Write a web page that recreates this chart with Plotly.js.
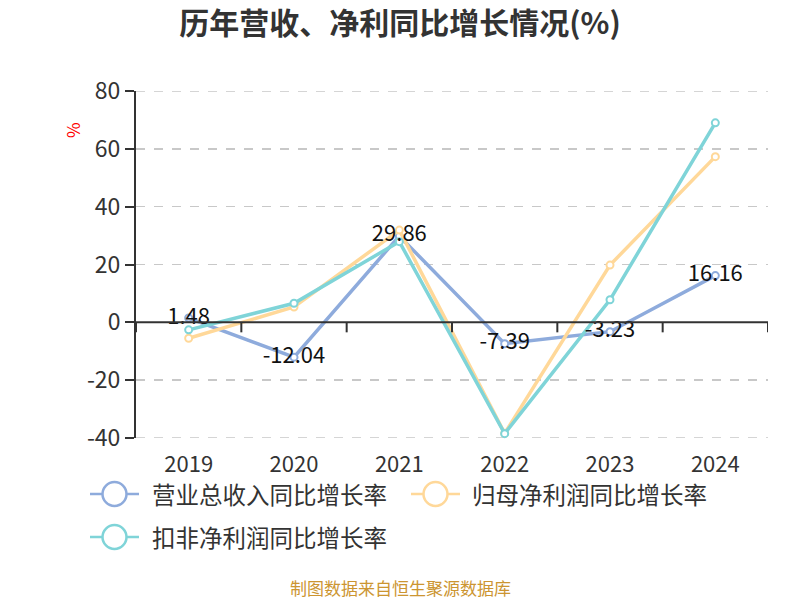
<!DOCTYPE html>
<html>
<head>
<meta charset="utf-8">
<script src="https://cdn.plot.ly/plotly-3.0.1.min.js"></script>
<style>html,body{margin:0;padding:0;background:#fff;}#chart{width:800px;height:600px;}</style>
</head>
<body>
<div id="chart"></div>
<script>
// ---- data ----
var years = ['2019', '2020', '2021', '2022', '2023', '2024'];
var revenueGrowth = [1.48, -12.04, 29.86, -7.39, -3.23, 16.16];
var netProfitGrowth = [-5.5, 5.3, 31.9, -38.4, 19.8, 57.3];
var deductedProfitGrowth = [-2.6, 6.6, 27.9, -38.5, 7.8, 69.0];
var seriesNames = ['营业总收入同比增长率', '归母净利润同比增长率', '扣非净利润同比增长率'];
var yTicks = [-40, -20, 0, 20, 40, 60, 80];

var colors = ['#8eabdc', '#ffd899', '#7fd4d8'];
var FONT = '"Noto Sans CJK SC", "Noto Sans", sans-serif';

// plot area in pixels
var L = 136, R = 768, T = 91, B = 438;
function px(x) { return (x - L) / (R - L); }
function py(y) { return (B - y) / (B - T); }

function lineTrace(vals, name, color) {
  return {
    type: 'scatter', mode: 'lines+markers', x: years, y: vals, name: name,
    line: {color: color, width: 3.5},
    marker: {symbol: 'circle', size: 7, color: '#fff', line: {color: color, width: 2}},
    showlegend: false, hoverinfo: 'x+y+name', cliponaxis: false
  };
}

var traces = [
  lineTrace(revenueGrowth, seriesNames[0], colors[0]),
  lineTrace(netProfitGrowth, seriesNames[1], colors[1]),
  lineTrace(deductedProfitGrowth, seriesNames[2], colors[2]),
  {
    type: 'scatter', mode: 'text', x: years, y: revenueGrowth,
    text: revenueGrowth.map(function (v) { return v.toFixed(2); }),
    textposition: 'middle center',
    textfont: {family: FONT, size: 22, color: '#111'},
    showlegend: false, hoverinfo: 'skip', cliponaxis: false
  }
];

var shapes = [];
// dashed gridlines at the range ends (plotly omits them at the edges)
[yTicks[0], yTicks[yTicks.length - 1]].forEach(function (v) {
  shapes.push({
    type: 'line', xref: 'paper', yref: 'y', x0: 0, x1: 1, y0: v, y1: v,
    line: {color: '#c8c8c8', width: 1.5, dash: 'dash'}, layer: 'below'
  });
});
// x axis line at zero + boundary ticks
shapes.push({
  type: 'line', xref: 'x', yref: 'y', x0: -0.5, x1: years.length - 0.5, y0: 0, y1: 0,
  line: {color: '#333', width: 2}, layer: 'above'
});
for (var i = 0; i <= years.length; i++) {
  shapes.push({
    type: 'line', xref: 'x', yref: 'y', ysizemode: 'pixel', yanchor: 0,
    x0: i - 0.5, x1: i - 0.5, y0: 0, y1: -10,
    line: {color: '#333', width: 2}, layer: 'above'
  });
}

// manual legend
var annotations = [];
var legendItems = [
  {row: 494, lx0: 90, lx1: 139, cx: 114.5, tx: 150},
  {row: 494, lx0: 411, lx1: 460, cx: 435.5, tx: 470},
  {row: 537, lx0: 90, lx1: 139, cx: 114.5, tx: 150}
];
legendItems.forEach(function (it, k) {
  shapes.push({
    type: 'line', xref: 'paper', yref: 'paper',
    x0: px(it.lx0), x1: px(it.lx1), y0: py(it.row), y1: py(it.row),
    line: {color: colors[k], width: 2.5}
  });
  shapes.push({
    type: 'circle', xref: 'paper', yref: 'paper',
    xsizemode: 'pixel', ysizemode: 'pixel', xanchor: px(it.cx), yanchor: py(it.row),
    x0: -12, x1: 12, y0: -12, y1: 12,
    fillcolor: '#fff', line: {color: colors[k], width: 2.5}
  });
  annotations.push({
    xref: 'paper', yref: 'paper', x: px(it.tx), y: py(it.row),
    xanchor: 'left', yanchor: 'middle', showarrow: false,
    text: seriesNames[k], font: {family: FONT, size: 23.5, color: '#333'}
  });
});

annotations.push({
  xref: 'paper', yref: 'paper', x: px(72), y: py(130),
  xanchor: 'center', yanchor: 'middle', showarrow: false, textangle: -90,
  text: '%', font: {family: FONT, size: 17, color: '#ff0000'}
});
annotations.push({
  xref: 'paper', yref: 'paper', x: px(400), y: py(587),
  xanchor: 'center', yanchor: 'middle', showarrow: false,
  text: '制图数据来自恒生聚源数据库', font: {family: FONT, size: 17, color: '#cc9531'}
});

var layout = {
  width: 800, height: 600,
  margin: {l: L, r: 800 - R, t: T, b: 600 - B},
  paper_bgcolor: '#fff', plot_bgcolor: '#fff',
  title: {
    text: '<b>历年营收、净利同比增长情况(%)</b>',
    font: {family: FONT, size: 30, color: '#333'},
    x: 0.5, xanchor: 'center', xref: 'container', y: 1 - 23 / 600, yref: 'container', yanchor: 'middle'
  },
  font: {family: FONT, color: '#333'},
  showlegend: false,
  xaxis: {
    type: 'category', range: [-0.5, years.length - 0.5],
    showline: false, showgrid: false, zeroline: false, ticks: '',
    ticklabelstandoff: 11,
    tickfont: {family: FONT, size: 22, color: '#333'},
    fixedrange: true
  },
  yaxis: {
    range: [-40, 80], tickvals: yTicks, ticktext: yTicks.map(String),
    showline: true, linecolor: '#333', linewidth: 2,
    ticks: 'outside', ticklen: 9, tickwidth: 2, tickcolor: '#333',
    showgrid: true, gridcolor: '#c8c8c8', gridwidth: 1.5, griddash: 'dash',
    zeroline: false,
    tickfont: {family: FONT, size: 23, color: '#333'},
    fixedrange: true
  },
  shapes: shapes,
  annotations: annotations
};

Plotly.newPlot('chart', traces, layout, {staticPlot: true, displayModeBar: false});
</script>
</body>
</html>
